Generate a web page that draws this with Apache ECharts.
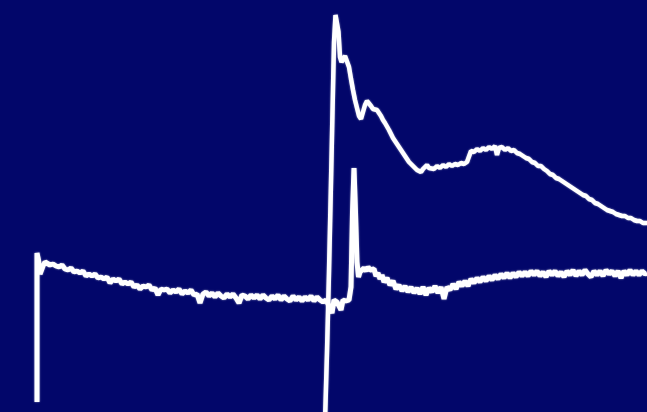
<!DOCTYPE html>
<html>
<head>
<meta charset="utf-8">
<script src="https://cdn.jsdelivr.net/npm/echarts@6/dist/echarts.min.js"></script>
<style>
html,body{margin:0;padding:0;background:#02066a;}
#c{width:647px;height:412px;}
</style>
</head>
<body>
<div id="c"></div>
<script>
// lower trace: [time, signal]
const lowerTrace = [
[37,10],[37,159],[38.5,152],[40,138],[41.5,136],[43,146],[45,150],[47,149],[50,147],[53,148],[56,146],[59,145],[62,147],[65,143],[68,142],[71,144],[74,140],[77,141],[80,139],[83,141],[86,136],[89,138],[92,136],[95,138],[98,134],[101,135],[104,133],[107,135],[110,129],[113,133],[116,131],[119,133],[122,128],[125,130],[128,128],[131,130],[134,125],[137,127],[140,123],[143,126],[146,125],[149,127],[152,122],[155,124],[158,117],[161,123],[164,122],[167,123],[170,119],[173,122],[176,120],[179,123],[182,118],[185,121],[188,119],[191,122],[194,117],[197,118],[200,109],[203,118],[206,120],[209,116],[212,119],[215,115],[218,119],[221,116],[224,114],[227,118],[230,115],[233,118],[236,114],[239,109],[242,117],[245,116],[248,113],[251,117],[254,114],[257,117],[260,113],[263,117],[266,114],[269,112],[272,116],[275,113],[278,117],[281,112],[284,116],[287,113],[290,111],[293,116],[296,112],[299,115],[302,111],[305,115],[308,112],[311,116],[314,111],[317,115],[320,112],[323,110],[326,112],[328,110],[330,104],[332,99],[334,112],[337,110],[339,111],[341,102],[343,112],[346,111],[349,112],[351,125],[352.5,200],[354,244],[355.5,200],[357,150],[358.5,135],[360,140],[362,138],[364,144],[366,141],[368,145],[370,142],[372,140],[374,143],[376,136],[378,139],[380,133],[382,137],[384,130],[387,134],[390,127],[393,131],[396,123],[399,127],[402,121],[405,126],[408,120],[411,125],[414,119],[417,124],[420,118],[423,125],[426,117],[429,124],[432,120],[435,126],[438,119],[441,125],[444,113],[447,125],[450,122],[453,128],[456,123],[459,130],[462,126],[465,131],[468,126],[471,133],[474,129],[477,134],[480,130],[483,135],[486,131],[489,136],[492,132],[495,137],[498,133],[501,138],[504,134],[507,139],[510,134],[513,139],[516,135],[519,140],[522,136],[525,140],[528,136],[531,141],[534,137],[537,141],[540,136],[543,140],[546,135],[549,141],[552,137],[555,141],[558,136],[561,140],[564,135],[567,141],[570,137],[573,142],[576,136],[579,141],[582,137],[585,142],[588,138],[591,135],[594,141],[597,137],[600,141],[603,136],[606,142],[609,138],[612,141],[615,136],[618,141],[621,134],[624,141],[627,137],[630,142],[633,137],[636,141],[639,137],[642,141],[645,138],[647,139]
];
// upper trace: [time, signal]
const upperTrace = [
[325,-10],[327,60],[329,140],[331,230],[332.5,300],[334,370],[335.5,397],[337,396],[338.5,380],[340,355],[341.5,350],[343,348],[345,356],[347,358],[349,345],[351,333],[353,322],[355,312],[357,304],[359,296],[361,293],[363,300],[365,307],[367,311],[369,309],[371,306],[373,303],[375,305],[377,302],[379,300],[381,296],[383,292],[385,289],[387,287],[389,282],[391,278],[393,274],[395,271],[397,268],[399,265],[401,262],[403,259],[405,256],[407,253],[409,250],[411,248],[413,246],[415,244],[417,242],[419,241],[421,240],[423,243],[425,241],[427,247],[429,244],[431,245],[434,243],[437,246],[440,244],[443,247],[446,245],[449,248],[452,246],[455,248],[458,247],[461,249],[464,248],[467,250],[469,251],[471,261],[474,260],[477,263],[480,261],[483,264],[486,262],[489,265],[492,263],[495,266],[497,257],[499,264],[502,265],[505,262],[508,264],[511,261],[514,262],[517,259],[520,258],[523,256],[526,254],[529,253],[532,250],[535,249],[538,246],[541,246],[544,243],[547,241],[550,238],[553,237],[556,234],[559,233],[562,231],[565,229],[568,227],[571,225],[574,223],[577,221],[580,219],[583,217],[586,216],[589,213],[592,212],[595,209],[598,208],[601,206],[604,204],[607,202],[610,201],[613,200],[616,198],[619,197],[622,196],[625,196],[628,194],[631,194],[634,192],[637,191],[640,191],[643,189],[647,189]
];

const chart = echarts.init(document.getElementById('c'));
const lineStyle = {color:'#ffffff', width:5, shadowBlur:2, shadowColor:'rgba(255,255,255,0.6)'};
chart.setOption({
  backgroundColor:'#02066a',
  animation:false,
  grid:{left:0,right:0,top:0,bottom:0},
  xAxis:{type:'value',min:0,max:647,show:false},
  yAxis:{type:'value',min:0,max:412,show:false},
  series:[
    {type:'line',data:lowerTrace,showSymbol:false,lineStyle:lineStyle,clip:true},
    {type:'line',data:upperTrace,showSymbol:false,lineStyle:{color:'#ffffff', width:4.5, shadowBlur:2, shadowColor:'rgba(255,255,255,0.6)'},clip:true}
  ]
});
</script>
</body>
</html>
